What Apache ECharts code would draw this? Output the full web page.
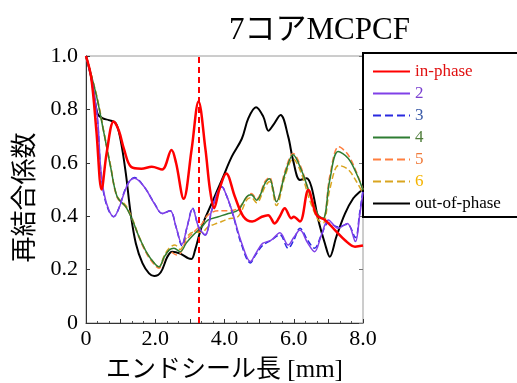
<!DOCTYPE html>
<html>
<head>
<meta charset="utf-8">
<script src="https://cdn.jsdelivr.net/npm/echarts@6/dist/echarts.min.js"></script>
<style>
  html, body { margin: 0; padding: 0; background: #fff; }
  #chart { width: 517px; height: 383px; }
</style>
</head>
<body>
<div id="chart"></div>
<script>
// [x (mm), 再結合係数]
const inPhase = [[0,1.0],[0.15,0.92],[0.3,0.72],[0.45,0.5],[0.6,0.64],[0.8,0.755],[0.95,0.72],[1.1,0.65],[1.3,0.585],[1.6,0.578],[1.9,0.585],[2.2,0.575],[2.47,0.648],[2.6,0.6],[2.82,0.465],[3.05,0.65],[3.25,0.83],[3.45,0.65],[3.58,0.5],[3.7,0.43],[3.85,0.5],[4.05,0.56],[4.3,0.473],[4.55,0.398],[4.8,0.38],[5.08,0.398],[5.26,0.404],[5.45,0.373],[5.6,0.4],[5.74,0.43],[5.93,0.392],[6.0,0.398],[6.18,0.38],[6.42,0.498],[6.66,0.404],[6.9,0.386],[7.19,0.348],[7.48,0.31],[7.77,0.286],[8.0,0.29]]
const core2 = [[0,1.0],[0.15,0.92],[0.33,0.77],[0.42,0.585],[0.52,0.486],[0.66,0.423],[0.8,0.398],[0.95,0.43],[1.1,0.486],[1.25,0.53],[1.4,0.542],[1.68,0.51],[1.97,0.448],[2.2,0.41],[2.43,0.42],[2.6,0.36],[2.77,0.295],[2.92,0.36],[3.08,0.428],[3.25,0.36],[3.44,0.33],[3.63,0.423],[3.8,0.49],[3.92,0.51],[4.05,0.48],[4.21,0.423],[4.5,0.298],[4.75,0.23],[4.9,0.26],[5.1,0.298],[5.35,0.31],[5.6,0.338],[5.84,0.292],[6.0,0.32],[6.18,0.348],[6.4,0.3],[6.6,0.267],[6.8,0.33],[7.0,0.386],[7.28,0.355],[7.55,0.373],[7.78,0.305],[7.9,0.4],[8.0,0.49]]
const core3 = [[0,1.0],[0.15,0.92],[0.33,0.76],[0.42,0.58],[0.52,0.48],[0.66,0.42],[0.8,0.398],[0.95,0.43],[1.1,0.49],[1.25,0.53],[1.4,0.545],[1.68,0.51],[1.97,0.45],[2.2,0.41],[2.43,0.42],[2.6,0.36],[2.77,0.29],[2.92,0.36],[3.08,0.43],[3.25,0.36],[3.44,0.33],[3.63,0.42],[3.8,0.49],[3.92,0.51],[4.05,0.48],[4.21,0.42],[4.5,0.29],[4.75,0.225],[4.9,0.255],[5.1,0.29],[5.35,0.31],[5.6,0.33],[5.84,0.28],[6.0,0.31],[6.18,0.355],[6.4,0.31],[6.6,0.28],[6.8,0.33],[7.0,0.375],[7.28,0.36],[7.55,0.37],[7.78,0.32],[7.9,0.41],[8.0,0.5]]
const core4 = [[0,1.0],[0.15,0.93],[0.33,0.835],[0.52,0.71],[0.71,0.585],[0.9,0.473],[1.15,0.435],[1.34,0.386],[1.53,0.323],[1.77,0.26],[2.0,0.22],[2.11,0.21],[2.25,0.245],[2.4,0.273],[2.54,0.28],[2.72,0.267],[2.9,0.3],[3.15,0.336],[3.34,0.36],[3.53,0.386],[3.82,0.398],[4.11,0.41],[4.4,0.423],[4.64,0.473],[4.77,0.48],[4.93,0.46],[5.17,0.523],[5.3,0.54],[5.5,0.454],[5.75,0.56],[5.98,0.63],[6.22,0.573],[6.46,0.486],[6.71,0.404],[6.85,0.392],[7.04,0.535],[7.28,0.642],[7.57,0.617],[7.81,0.56],[8.0,0.498]]
const core5 = [[0,1.0],[0.15,0.93],[0.33,0.835],[0.52,0.71],[0.71,0.585],[0.9,0.47],[1.15,0.435],[1.34,0.386],[1.53,0.32],[1.77,0.255],[2.0,0.215],[2.11,0.205],[2.25,0.24],[2.4,0.27],[2.62,0.255],[2.72,0.26],[2.9,0.31],[3.15,0.345],[3.34,0.37],[3.53,0.405],[3.82,0.42],[4.11,0.42],[4.4,0.43],[4.64,0.47],[4.77,0.485],[4.93,0.465],[5.17,0.53],[5.3,0.545],[5.5,0.455],[5.75,0.57],[5.98,0.635],[6.22,0.58],[6.46,0.48],[6.71,0.4],[6.85,0.39],[7.04,0.55],[7.3,0.66],[7.57,0.63],[7.81,0.565],[8.0,0.5]]
const core6 = [[0,1.0],[0.15,0.93],[0.33,0.84],[0.52,0.715],[0.71,0.59],[0.9,0.475],[1.15,0.44],[1.34,0.39],[1.53,0.325],[1.77,0.26],[2.0,0.22],[2.11,0.21],[2.25,0.25],[2.4,0.28],[2.57,0.292],[2.72,0.275],[2.9,0.32],[3.1,0.34],[3.34,0.34],[3.53,0.36],[3.82,0.375],[4.11,0.39],[4.4,0.4],[4.64,0.46],[4.77,0.47],[4.93,0.45],[5.17,0.51],[5.3,0.53],[5.5,0.44],[5.75,0.55],[5.98,0.615],[6.22,0.56],[6.46,0.46],[6.71,0.385],[6.85,0.375],[7.04,0.5],[7.3,0.59],[7.57,0.575],[7.81,0.53],[8.0,0.485]]
const outPhase = [[0,1.0],[0.15,0.92],[0.33,0.785],[0.47,0.767],[0.66,0.76],[0.86,0.748],[1.0,0.685],[1.15,0.56],[1.29,0.41],[1.44,0.298],[1.63,0.224],[1.82,0.186],[1.97,0.176],[2.16,0.19],[2.35,0.248],[2.49,0.267],[2.72,0.26],[2.96,0.242],[3.05,0.24],[3.15,0.273],[3.34,0.36],[3.63,0.448],[3.92,0.535],[4.21,0.623],[4.5,0.69],[4.69,0.767],[4.91,0.808],[5.12,0.773],[5.27,0.72],[5.4,0.74],[5.62,0.779],[5.84,0.698],[5.98,0.61],[6.18,0.536],[6.37,0.542],[6.51,0.51],[6.71,0.386],[6.9,0.298],[7.04,0.248],[7.23,0.323],[7.48,0.41],[7.72,0.467],[7.91,0.492],[8.0,0.5]]

const seriesNames = ['in-phase', '2', '3', '4', '5', '6', 'out-of-phase']
const lineColors = ['#ff0000', '#8040e8', '#2a2ae0', '#2e7d32', '#ff7f3f', '#d9a520', '#000000']
const textColors = ['#e01010', '#7a3fd0', '#3c5ca8', '#4f7d3a', '#f07b3b', '#f5b400', '#000000']
const lineTypes = ['solid', 'solid', 'dashed', 'solid', 'dashed', 'dashed', 'solid']
const lineWidths = [2.5, 1.5, 1.5, 1.5, 1.5, 1.5, 2]
const allData = [inPhase, core2, core3, core4, core5, core6, outPhase]
const cutPosition = 3.25 // 赤破線

const serif = '"Liberation Serif", "Noto Sans CJK JP", serif'

const series = seriesNames.map((name, i) => ({
  name: name,
  type: 'line',
  data: allData[i],
  smooth: 0.35,
  symbol: 'none',
  z: 10 - i,
  lineStyle: { color: lineColors[i], width: lineWidths[i], type: lineTypes[i] },
  itemStyle: { color: lineColors[i] }
}))
series[0].markLine = {
  silent: true,
  symbol: 'none',
  label: { show: false },
  lineStyle: { color: '#ff0000', type: [6, 4], width: 2 },
  data: [{ xAxis: cutPosition }]
}

const option = {
  animation: false,
  title: {
    text: '7コアMCPCF',
    left: 224,
    top: 10,
    textStyle: { fontFamily: serif, fontSize: 31, fontWeight: 'normal', color: '#000' }
  },
  legend: {
    left: 363,
    top: 53,
    orient: 'vertical',
    padding: [10, 60, 5, 9],
    itemWidth: 37,
    itemHeight: 12,
    itemGap: 5,
    borderColor: '#000',
    borderWidth: 2,
    backgroundColor: '#fff',
    itemStyle: { color: 'rgba(0,0,0,0)', borderWidth: 0 },
    data: seriesNames.map((n, i) => ({
      name: n,
      textStyle: { color: textColors[i] }
    })),
    textStyle: { fontFamily: serif, fontSize: 17 }
  },
  grid: {
    left: 86,
    top: 56,
    right: 154,
    bottom: 60,
    outerBoundsMode: 'none',
    show: true,
    borderColor: '#9a9a9a',
    borderWidth: 1
  },
  xAxis: {
    type: 'value',
    min: 0,
    max: 8,
    interval: 1,
    name: 'エンドシール長 [mm]',
    nameLocation: 'middle',
    nameGap: 35,
    nameTextStyle: { fontFamily: serif, fontSize: 25, color: '#000' },
    axisLine: { lineStyle: { color: '#333', width: 1 } },
    axisTick: { inside: true, length: 4, lineStyle: { color: '#333' } },
    minorTick: { show: true, splitNumber: 3, length: 2, lineStyle: { color: '#555' } },
    splitLine: { show: false },
    axisLabel: {
      fontFamily: serif,
      fontSize: 22,
      color: '#000',
      margin: 5,
      formatter: v => (v === 0 ? '0' : (v % 2 === 0 ? v.toFixed(1) : ''))
    }
  },
  yAxis: [
    {
      type: 'value',
      min: 0,
      max: 1,
      interval: 0.2,
      name: '再結合係数',
      nameLocation: 'middle',
      nameGap: 47,
      nameTextStyle: { fontFamily: serif, fontSize: 26, color: '#000', padding: [0, 16, 0, 0] },
      axisLine: { show: true, lineStyle: { color: '#333', width: 1 } },
      axisTick: { inside: true, length: 4, lineStyle: { color: '#333' } },
      splitLine: { show: false },
      axisLabel: {
        fontFamily: serif,
        fontSize: 22,
        color: '#000',
        margin: 8,
        formatter: v => (v === 0 ? '0' : v.toFixed(1))
      }
    },
    {
      type: 'value',
      position: 'right',
      min: 0,
      max: 1,
      interval: 0.2,
      axisLine: { show: false },
      axisTick: { inside: true, length: 4, lineStyle: { color: '#777' } },
      axisLabel: { show: false },
      splitLine: { show: false }
    }
  ],
  series: series
}

const chart = echarts.init(document.getElementById('chart'))
chart.setOption(option)
</script>
</body>
</html>
